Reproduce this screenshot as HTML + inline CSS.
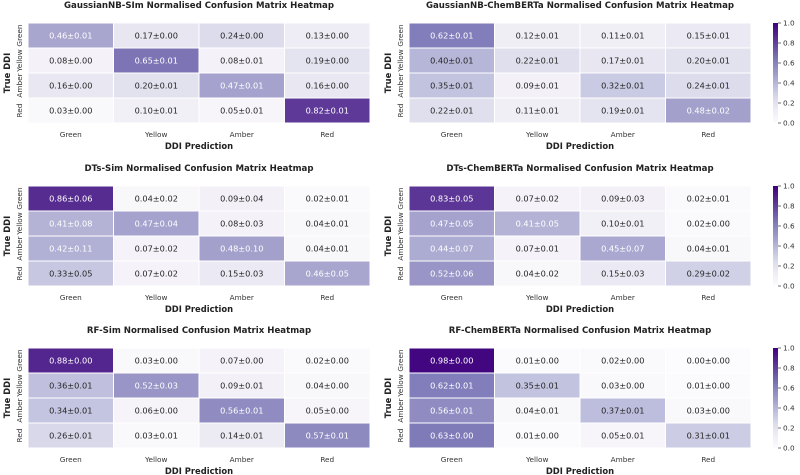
<!DOCTYPE html>
<html><head><meta charset="utf-8"><style>
body{margin:0;background:#fff;}
svg{display:block;font-family:"DejaVu Sans","Liberation Sans",sans-serif;}
</style></head><body>
<svg id="c" width="800" height="475"></svg>
<script>
const classes=["Green","Yellow","Amber","Red"];
const titles=["GaussianNB-SIm Normalised Confusion Matrix Heatmap","GaussianNB-ChemBERTa Normalised Confusion Matrix Heatmap","DTs-Sim Normalised Confusion Matrix Heatmap","DTs-ChemBERTa Normalised Confusion Matrix Heatmap","RF-Sim Normalised Confusion Matrix Heatmap","RF-ChemBERTa Normalised Confusion Matrix Heatmap"];
const means=[
[[0.46,0.17,0.24,0.13],[0.08,0.65,0.08,0.19],[0.16,0.20,0.47,0.16],[0.03,0.10,0.05,0.82]],
[[0.62,0.12,0.11,0.15],[0.40,0.22,0.17,0.20],[0.35,0.09,0.32,0.24],[0.22,0.11,0.19,0.48]],
[[0.86,0.04,0.09,0.02],[0.41,0.47,0.08,0.04],[0.42,0.07,0.48,0.04],[0.33,0.07,0.15,0.46]],
[[0.83,0.07,0.09,0.02],[0.47,0.41,0.10,0.02],[0.44,0.07,0.45,0.04],[0.52,0.04,0.15,0.29]],
[[0.88,0.03,0.07,0.02],[0.36,0.52,0.09,0.04],[0.34,0.06,0.56,0.05],[0.26,0.03,0.14,0.57]],
[[0.98,0.01,0.02,0.00],[0.62,0.35,0.03,0.01],[0.56,0.04,0.37,0.03],[0.63,0.01,0.05,0.31]]];
const stds=[
[[0.01,0.00,0.00,0.00],[0.00,0.01,0.01,0.00],[0.00,0.01,0.01,0.00],[0.00,0.01,0.01,0.01]],
[[0.01,0.01,0.01,0.01],[0.01,0.01,0.01,0.01],[0.01,0.01,0.01,0.01],[0.01,0.01,0.01,0.02]],
[[0.06,0.02,0.04,0.01],[0.08,0.04,0.03,0.01],[0.11,0.02,0.10,0.01],[0.05,0.02,0.03,0.05]],
[[0.05,0.02,0.03,0.01],[0.05,0.05,0.01,0.00],[0.07,0.01,0.07,0.01],[0.06,0.02,0.03,0.02]],
[[0.00,0.00,0.00,0.00],[0.01,0.03,0.01,0.00],[0.01,0.00,0.01,0.00],[0.01,0.01,0.01,0.01]],
[[0.00,0.00,0.00,0.00],[0.01,0.01,0.00,0.00],[0.01,0.01,0.01,0.00],[0.00,0.00,0.01,0.01]]];
const cbTicks=[0.0,0.2,0.4,0.6,0.8,1.0];

const stops=[[252,251,253],[239,237,245],[218,218,235],[188,189,220],[158,154,200],[128,125,186],[106,81,163],[84,39,143],[63,0,125]];
function color(v){v=Math.max(0,Math.min(1,v));const p=v*8,i=Math.min(7,Math.floor(p)),f=p-i;const a=stops[i],b=stops[i+1];return `rgb(${a.map((x,k)=>Math.round(x+(b[k]-x)*f)).join(",")})`;}
const svg=document.getElementById('c');const NS="http://www.w3.org/2000/svg";
function el(t,at,txt){const e=document.createElementNS(NS,t);for(const k in at)e.setAttribute(k,at[k]);if(txt!=null)e.textContent=txt;svg.appendChild(e);return e;}
const rowTops=[23,186,348],colLefts=[28,409],W=342,H=100;
for(let p=0;p<6;p++){
 const r=Math.floor(p/2),c=p%2,x0=colLefts[c],y0=rowTops[r];
 const cw=W/4,ch=H/4;
 const xs=j=>x0+j*cw, ys=i=>y0+i*ch;
 let t=el('text',{x:x0+W/2,y:y0-15,'text-anchor':'middle','font-size':'8.6','font-weight':'bold',fill:'#222'},titles[p]);
 
 
 for(let i=0;i<4;i++)for(let j=0;j<4;j++){
  const v=means[p][i][j];
  const rc=el('rect',{x:xs(j),y:ys(i),width:cw,height:ch,fill:color(v),stroke:'#fff','stroke-width':'1'});
  
  
  const tx=el('text',{x:xs(j)+cw/2,y:ys(i)+ch/2+3,'text-anchor':'middle','font-size':'8.2',fill:v>0.405?'#fff':'#262626'},v.toFixed(2)+'±'+stds[p][i][j].toFixed(2));
  
  
 }
 for(let j=0;j<4;j++){
  const tl=el('text',{x:xs(j)+cw/2,y:y0+H+14,'text-anchor':'middle','font-size':'7.3',fill:'#333'},classes[j]);
  
  
  const yx=x0-6,yy=ys(j)+ch/2;
  const yl=el('text',{x:yx,y:yy,'text-anchor':'middle','font-size':'7.3',fill:'#333',transform:`rotate(-90 ${yx} ${yy})`},classes[j]);
  
  
 }
 const xl=el('text',{x:x0+W/2,y:y0+H+26,'text-anchor':'middle','font-size':'8.4','font-weight':'bold',fill:'#222'},'DDI Prediction');
 
 
 const ax=x0-18,ay=y0+H/2;
 const yt=el('text',{x:ax,y:ay,'text-anchor':'middle','font-size':'8.4','font-weight':'bold',fill:'#222',transform:`rotate(-90 ${ax} ${ay})`},'True DDI');
 
 
}
// colorbars
const defs=el('defs',{});
const g=document.createElementNS(NS,'linearGradient');g.setAttribute('id','pg');g.setAttribute('x1','0');g.setAttribute('y1','1');g.setAttribute('x2','0');g.setAttribute('y2','0');
for(let k=0;k<=8;k++){const s=document.createElementNS(NS,'stop');s.setAttribute('offset',k/8);s.setAttribute('stop-color',color(k/8));g.appendChild(s);}
defs.appendChild(g);
for(let r=0;r<3;r++){
 const y0=rowTops[r];
 const cb=el('rect',{x:773,y:y0,width:5,height:H,fill:'url(#pg)'});
 
 
 cbTicks.forEach(v=>{
  const yy=y0+H-v*H;
  el('line',{x1:778,x2:781,y1:yy,y2:yy,stroke:'#333','stroke-width':'0.7'});
  const tl=el('text',{x:783,y:yy+2.6,'font-size':'7.3',fill:'#333'},v.toFixed(1));
  
  
 });
}
</script>
</body></html>
